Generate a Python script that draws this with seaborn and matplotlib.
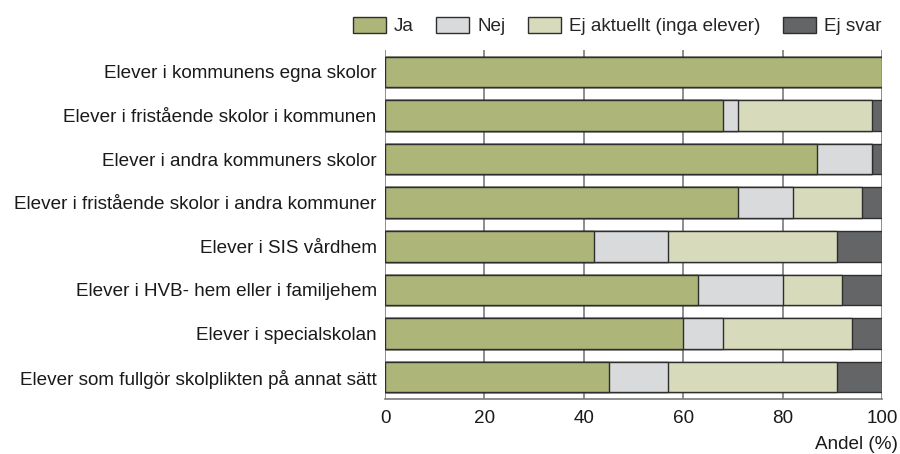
import numpy as np
import pandas as pd
import matplotlib
matplotlib.use("Agg")
import matplotlib.pyplot as plt
from matplotlib.patches import Patch
import seaborn as sns

# Data (andel %)
categories = [
    "Elever i kommunens egna skolor",
    "Elever i fristående skolor i kommunen",
    "Elever i andra kommuners skolor",
    "Elever i fristående skolor i andra kommuner",
    "Elever i SIS vårdhem",
    "Elever i HVB- hem eller i familjehem",
    "Elever i specialskolan",
    "Elever som fullgör skolplikten på annat sätt",
]
ja = [100, 68, 87, 71, 42, 63, 60, 45]
nej = [0, 3, 11, 11, 15, 17, 8, 12]
ej_aktuellt = [0, 27, 0, 14, 34, 12, 26, 34]
ej_svar = [0, 2, 2, 4, 9, 8, 6, 9]

series = ["Ja", "Nej", "Ej aktuellt (inga elever)", "Ej svar"]
colors = ["#adb578", "#d9dadc", "#d7dabb", "#646566"]

df = pd.DataFrame({"Kategori": categories, "Ja": ja, "Nej": nej,
                   "Ej aktuellt (inga elever)": ej_aktuellt, "Ej svar": ej_svar})
cum = df[series].cumsum(axis=1)

sns.set_style("white")
plt.rcParams["font.family"] = ["Liberation Sans", "DejaVu Sans"]
fs = 13.6

fig = plt.figure(figsize=(9, 4.54), dpi=100)
ax = fig.add_axes([0.4278, 0.1211, 0.98 - 0.4278, 0.8899 - 0.1211])

# stacked bars: draw cumulative totals from the outermost layer inwards
for s, c in reversed(list(zip(series, colors))):
    sns.barplot(x=cum[s], y=df["Kategori"], orient="h", color=c, width=0.7,
                saturation=1, edgecolor="#2e2e2e", linewidth=1.0, ax=ax, zorder=2)

ax.set_xlim(0, 100)
ax.set_ylim(7.5, -0.5)
ax.set_xticks([0, 20, 40, 60, 80, 100])
ax.grid(axis="x", color="#7a7a7a", linewidth=1.2, zorder=0)
ax.set_axisbelow(True)
for sp in ["top", "right", "left"]:
    ax.spines[sp].set_visible(False)
ax.spines["bottom"].set_color("#7a7a7a")
ax.spines["bottom"].set_linewidth(1.2)
ax.tick_params(axis="both", length=0, labelsize=fs, colors="#1a1a1a")
ax.tick_params(axis="x", pad=8)
ax.tick_params(axis="y", pad=6)
ax.set_ylabel("")
ax.set_xlabel("Andel (%)", loc="right", fontsize=fs, color="#1a1a1a")
ax.xaxis.set_label_coords(1.032, -0.105)

handles = [Patch(facecolor=c, edgecolor="#2e2e2e", linewidth=1.0, label=s)
           for s, c in zip(series, colors)]
ax.legend(handles=handles, ncol=4, loc="lower right", bbox_to_anchor=(1.014, 1.02),
          frameon=False, fontsize=fs, handlelength=1.75, handleheight=0.9,
          handletextpad=0.42, columnspacing=1.2, borderaxespad=0)

fig.savefig("out.png", dpi=100)
